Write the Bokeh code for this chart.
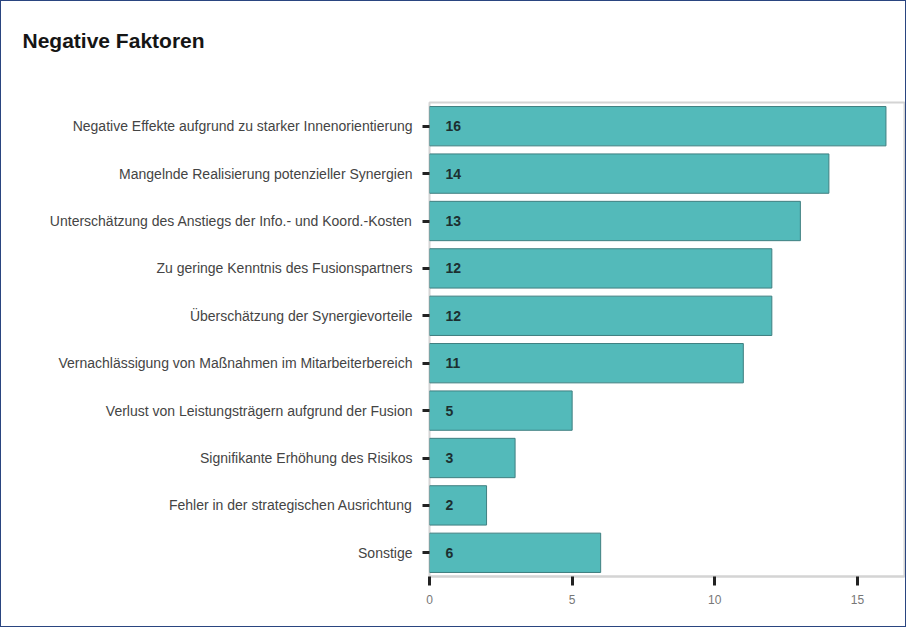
from bokeh.plotting import figure
from bokeh.models import ColumnDataSource, FixedTicker, FactorRange, Range1d, Title
from bokeh.core.properties import value
from bokeh.embed import file_html
from bokeh.resources import INLINE

title = "Negative Faktoren"
categories = [
    "Negative Effekte aufgrund zu starker Innenorientierung",
    "Mangelnde Realisierung potenzieller Synergien",
    "Unterschätzung des Anstiegs der Info.- und Koord.-Kosten",
    "Zu geringe Kenntnis des Fusionspartners",
    "Überschätzung der Synergievorteile",
    "Vernachlässigung von Maßnahmen im Mitarbeiterbereich",
    "Verlust von Leistungsträgern aufgrund der Fusion",
    "Signifikante Erhöhung des Risikos",
    "Fehler in der strategischen Ausrichtung",
    "Sonstige",
]
counts = [16, 14, 13, 12, 12, 11, 5, 3, 2, 6]
x_ticks = [0, 5, 10, 15]

src = ColumnDataSource(dict(
    cat=categories,
    val=counts,
    zero=[0] * len(counts),
    txt=[str(v) for v in counts],
))

p = figure(
    width=906, height=627,
    y_range=FactorRange(*list(reversed(categories)), range_padding=0),
    x_range=Range1d(0, 16.65),
    output_backend="svg", toolbar_location=None,
    min_border_left=428, min_border_right=3, min_border_top=0, min_border_bottom=52,
    styles={"border": "1px solid #2a4580"},
)

p.hbar(y="cat", left=0, right="val", height=0.83, source=src,
       fill_color="#53baba", line_color="#3f7f80", line_width=1)

p.text(x="zero", y="cat", text="txt", source=src, x_offset=16,
       text_align="left", text_baseline="middle",
       text_font=value("Liberation Sans"), text_font_style="bold",
       text_font_size="14px", text_color="#1c2f30")

# spacer between title and plot frame
p.add_layout(Title(text=" ", text_font_size="2px", standoff=22), "above")

p.title.text = title
p.title.text_font = "Liberation Sans"
p.title.text_font_size = "21px"
p.title.text_font_style = "bold"
p.title.text_color = "#151515"
p.title.align = "left"
p.title.offset = -407
p.title.standoff = 50

p.xgrid.visible = False
p.ygrid.visible = False
p.outline_line_color = "#d4d4d4"
p.outline_line_width = 2

xa = p.xaxis[0]
xa.ticker = FixedTicker(ticks=x_ticks)
xa.minor_tick_line_color = None
xa.major_tick_in = 0
xa.major_tick_out = 9
xa.major_tick_line_width = 3
xa.major_tick_line_color = "#222222"
xa.axis_line_color = "#d4d4d4"
xa.axis_line_width = 2
xa.major_label_text_font = "Liberation Sans"
xa.major_label_text_font_size = "12px"
xa.major_label_text_color = "#777777"
xa.major_label_standoff = 9

ya = p.yaxis[0]
ya.major_tick_in = 0
ya.major_tick_out = 7
ya.major_tick_line_width = 3
ya.major_tick_line_color = "#222222"
ya.axis_line_color = None
ya.major_label_text_font = "Liberation Sans"
ya.major_label_text_font_size = "14px"
ya.major_label_text_color = "#444444"
ya.major_label_standoff = 10

open("out.html", "w").write(file_html(p, INLINE))
